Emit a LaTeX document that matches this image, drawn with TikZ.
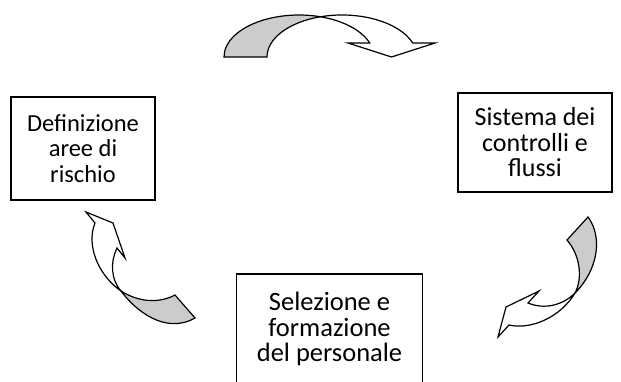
\documentclass[tikz,border=0pt]{standalone}
\usepackage{fontspec}
\setmainfont{Carlito}
\begin{document}
\begin{tikzpicture}[x=1pt,y=-1pt,
  box/.style={draw, line width=1.3pt, align=center, inner sep=0pt},
  band/.style={draw, line width=1.2pt, line join=miter},
  backband/.style={band, fill=black!20},
  frontband/.style={band, fill=white}]
\useasboundingbox (0,0) rectangle (621,381);
\clip (0,0) rectangle (621,381);
% boxes
\node[box, font=\fontsize{24.5}{25.5}\selectfont, minimum width=144pt, minimum height=103pt] (def) at (83,148.5) {Definizione\\aree di\\rischio};
\node[box, font=\fontsize{26}{25.5}\selectfont, minimum width=154pt, minimum height=99pt] (sis) at (535,142.5) {Sistema dei\\controlli e\\flussi};
\node[box, font=\fontsize{26.5}{25.5}\selectfont, minimum width=186pt, minimum height=110pt] (sel) at (329.5,329) {Selezione e\\formazione\\del personale};
% top curved arrow
\path[backband] (224,57) arc[start angle=180, end angle=286.66, x radius=75, y radius=42]
  arc[start angle=253.34, end angle=180, x radius=75, y radius=42] -- cycle;
\path[frontband] (320.5,16.76) arc[start angle=253.34, end angle=340.53, x radius=75, y radius=42]
  -- (435,43) -- (391.5,57) -- (348,43) -- (369.7,43)
  arc[start angle=340.53, end angle=286.66, x radius=75, y radius=42] -- cycle;
% left curved arrow
\path[backband] (121,291) .. controls (140,303) and (160,303) .. (175,295)
  -- (195,318) .. controls (165,335) and (135,310) .. (121,291) -- cycle;
\path[frontband] (121,291) .. controls (98,275) and (86,245) .. (95,223)
  -- (86,212) -- (113,223) -- (125,258) -- (117,248)
  .. controls (110,262) and (111,280) .. (121,291) -- cycle;
% right curved arrow
\path[backband] (588,217) .. controls (603,237) and (598,270) .. (575,293)
  .. controls (583,278) and (580,255) .. (567,240) -- cycle;
\path[frontband] (575,293) .. controls (563,305) and (545,310) .. (528,303)
  -- (539,291) -- (506,307) -- (498,337) -- (509,325)
  .. controls (530,330) and (560,318) .. (575,293) -- cycle;
\end{tikzpicture}
\end{document}
